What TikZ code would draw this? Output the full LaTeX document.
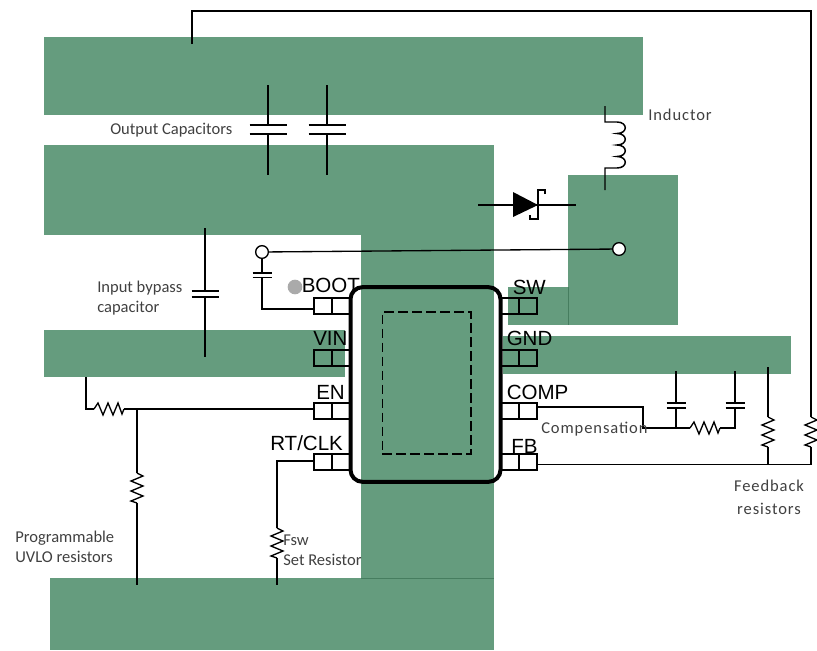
\documentclass[tikz,border=0pt]{standalone}
\usepackage{fontspec}
\setmainfont{Liberation Sans}
\newfontfamily\lblfont{Carlito}
\newfontfamily\lblwide[LetterSpace=5.5]{Carlito}
\definecolor{pcb}{RGB}{101,156,126}
\definecolor{pcbedge}{RGB}{70,125,95}
\definecolor{lbl}{RGB}{64,64,64}
\definecolor{dot}{RGB}{170,170,170}
\tikzset{
  x=0.75pt,y=-0.75pt,
  wire/.style={line width=1pt,black},
  copper/.style={fill=pcb,draw=none},
  pinbox/.style={draw=black,line width=1pt,fill=none,minimum width=27pt,minimum height=12pt,inner sep=0pt,outer sep=0pt,
     path picture={\draw[line width=1pt] (path picture bounding box.north) -- (path picture bounding box.south);}},
  pinlabel/.style={inner sep=0pt,font=\fontsize{15.4}{15.4}\selectfont,text=black,anchor=west},
  note/.style={inner sep=0pt,font=\lblfont\fontsize{12.4}{15}\selectfont,text=lbl,align=left,anchor=west},
  notewide/.style={note,font=\lblwide\fontsize{12.4}{17}\selectfont},
  ring/.style={circle,draw=black,line width=1pt,fill=white,minimum size=9.5pt,inner sep=0pt,outer sep=0pt},
  pics/resv/.style={code={\draw[wire,line join=miter] (0,0) -- (6,3) -- (-6,8) -- (6,13) -- (-6,18) -- (6,23) -- (-6,28) -- (0,30);}},
  pics/resh/.style={code={\draw[wire,line join=miter] (0,0) -- (4,-6) -- (9,6) -- (14,-6) -- (19,6) -- (24,-6) -- (28,5) -- (30,0);}},
  pics/plates/.style args={#1/#2}{code={\draw[wire,line width=1.2pt] (-#1,-#2) -- (#1,-#2) (-#1,#2) -- (#1,#2);}},
}
\begin{document}
\begin{tikzpicture}
\useasboundingbox (0,0) rectangle (817,650);
% copper
\fill[copper] (44,37) rectangle (643,115);
\fill[copper] (44,145) rectangle (494,235);
\fill[copper] (361,235) rectangle (494,578);
\fill[copper] (50,578) rectangle (494,650);
\fill[copper] (44,330) rectangle (345,377);
\fill[copper] (567.5,175) rectangle (678,325);
\fill[copper] (508,287) rectangle (568,325);
\fill[copper] (503,336) rectangle (791,374);
\draw[pcbedge,line width=0.4pt] (361,578) -- (494,578) (568,287) -- (568,325);

% pins
\node[pinbox] (bootpin) at (332,306) {};
\node[pinbox] (vinpin) at (332,358) {};
\node[pinbox] (enpin) at (332,411) {};
\node[pinbox] (rtpin) at (332,462) {};
\node[pinbox] (swpin) at (519,306) {};
\node[pinbox] (gndpin) at (519,358) {};
\node[pinbox] (comppin) at (519,411) {};
\node[pinbox] (fbpin) at (519,462) {};

% IC
\node[draw=black,line width=3pt,rounded corners=9pt,minimum width=112.5pt,minimum height=146pt,inner sep=0pt,outer sep=0pt] (ic) at (425.5,384.5) {};
\node[draw=black,line width=1pt,dash pattern=on 7pt off 3.5pt,minimum width=66.5pt,minimum height=106.5pt,inner sep=0pt] (pad) at (426.5,383) {};

% pin labels
\node[pinlabel] (lboot) at (301.5,285) {BOOT};
\node[pinlabel] (lvin) at (313,338) {VIN};
\node[pinlabel] (len) at (316,392) {EN};
\node[pinlabel] (lrt) at (270,443) {RT/CLK};
\node[pinlabel] (lsw) at (512.5,287) {SW};
\node[pinlabel] (lgnd) at (506.5,338) {GND};
\node[pinlabel] (lcomp) at (506.5,392) {COMP};
\node[pinlabel] (lfb) at (511,446) {FB};
\node[circle,fill=dot,minimum size=11pt,inner sep=0pt] (bootdot) at (295,287) {};

% coordinates
\coordinate (outtop) at (192,44);
\coordinate (fbtop) at (811,417);
\coordinate (fbjoin) at (811,464.5);
\coordinate (fbpinr) at (537,464.5);
\coordinate (rtlow) at (768,417);
\coordinate (rtjoin) at (768,464.5);

% top feedback
\draw[wire] (outtop) -- (192,11) -- (811,11) -- (fbtop);
\pic at (fbtop) {resv};
\draw[wire] (811,447) -- (fbjoin) -- (fbpinr);
\draw[wire] (768,367) -- (rtlow);
\pic at (rtlow) {resv};
\draw[wire] (768,447) -- (rtjoin);

% output caps
\draw[wire] (268,85) -- (268,125) (268,134) -- (268,175);
\pic at (268,129.5) {plates=18.5/4.5};
\draw[wire] (327,85) -- (327,125) (327,134) -- (327,175);
\pic at (327,129.5) {plates=18.5/4.5};

% input cap
\draw[wire] (205,228) -- (205,291) (205,297) -- (205,357);
\pic at (205,294) {plates=13.5/3};

% boot
\node[ring] (bootring) at (262,252) {};
\node[ring] (swring) at (619,249) {};
\draw[wire] (bootring) -- (swring);
\coordinate (bootw) at (314,309);
\draw[wire] (bootring) -- (262,273) (262,277.5) -- (262,309) -- (bootw);
\pic at (262,275.2) {plates=9.5/2.3};

% inductor
\draw[wire,line width=1.1pt] (605,106) -- (605,122) -- (617,122)
  .. controls (628,122) and (628,133.5) .. (617,133.5)
  .. controls (628,133.5) and (628,145) .. (617,145)
  .. controls (628,145) and (628,156.5) .. (617,156.5)
  .. controls (628,156.5) and (628,168) .. (617,168)
  -- (605,168) -- (605,190);

% diode
\draw[wire] (478,205) -- (576,205);
\fill[black] (513,192) -- (538,205) -- (513,217) -- cycle;
\draw[wire,line width=1.1pt] (545,194) -- (545,190) -- (538,190) -- (538,219) -- (530,219) -- (530,215);

% compensation
\coordinate (compr) at (537,407);
\draw[wire] (compr) -- (643,407) -- (643,428) -- (690,428);
\pic at (690,428) {resh};
\draw[wire] (720,428) -- (735,428) -- (735,407.5) (735,403) -- (735,371);
\pic at (735,405.2) {plates=9.5/2.5};
\draw[wire] (676,428) -- (676,407.5) (676,403) -- (676,371);
\pic at (676,405.2) {plates=9.5/2.5};

% EN divider
\coordinate (enw) at (314,409);
\draw[wire] (86,377) -- (86,409) -- (94,409);
\pic at (94,409) {resh};
\draw[wire] (124,409) -- (enw);
\draw[wire] (137,409) -- (137,473);
\pic at (137,473) {resv};
\draw[wire] (137,503) -- (137,585);

% RT
\coordinate (rtw) at (314,461);
\draw[wire] (rtw) -- (277,461) -- (277,528);
\pic at (277,528) {resv};
\draw[wire] (277,558) -- (277,585);

% notes
\node[notewide] (ninductor) at (648,115) {Inductor};
\node[note] (noutput) at (110,130) {Output Capacitors};
\node[note] (ninput) at (97,298) {Input bypass\\capacitor};
\node[notewide] (ncomp) at (541,429) {Compensation};
\node[notewide,align=center,anchor=center] (nfb) at (769,497.5) {Feedback\\resistors};
\node[note] (nuvlo) at (15,547) {Programmable\\UVLO resistors};
\node[note] (nfsw) at (283,550) {Fsw\\Set Resistor};
\end{tikzpicture}
\end{document}
